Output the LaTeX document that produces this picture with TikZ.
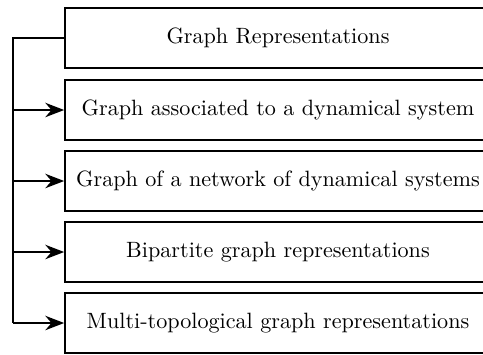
\documentclass[tikz,border=0pt]{standalone}
\usetikzlibrary{arrows.meta}
\begin{document}
\begin{tikzpicture}[x=0.4515pt,y=-0.4515pt,
  box/.style={draw,line width=0.8pt,rectangle,minimum width=192.3pt,minimum height=27.1pt,inner sep=0pt,anchor=center},
  conn/.style={line width=0.8pt},
  arr/.style={line width=0.8pt,-{Stealth[length=8.5pt,width=6.5pt]}}]
\path[use as bounding box,clip] (0,0) rectangle (483,354);
\node[box] (b1) at (278,38) {Graph Representations};
\node[box] (b2) at (278,110) {Graph associated to a dynamical system};
\node[box] (b3) at (278,181) {Graph of a network of dynamical systems};
\node[box] (b4) at (278,252) {Bipartite graph representations};
\node[box] (b5) at (278,323) {Multi-topological graph representations};
\coordinate (spine) at (13,0);
\draw[conn] (b1.west) -| (spine |- b5.west);
\draw[arr] (spine |- b2.west) -- (b2.west);
\draw[arr] (spine |- b3.west) -- (b3.west);
\draw[arr] (spine |- b4.west) -- (b4.west);
\draw[arr] (spine |- b5.west) -- (b5.west);
\end{tikzpicture}
\end{document}
